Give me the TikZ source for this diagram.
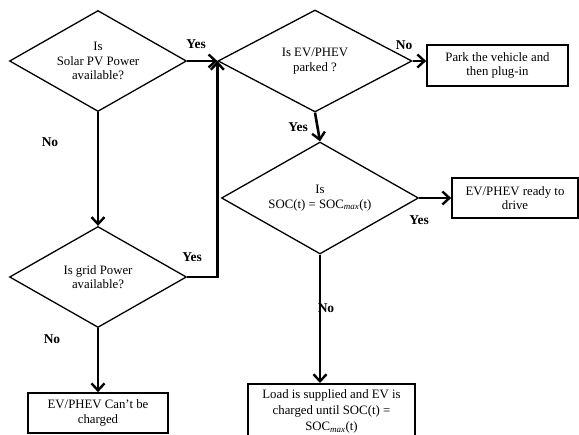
\documentclass[tikz,border=0pt]{standalone}
\usepackage{fontspec}
\setmainfont{Liberation Serif}
\usetikzlibrary{positioning,shapes.geometric,arrows.meta}

\tikzset{
  decision/.style={diamond, aspect=1.75, draw, line width=1.3pt, inner sep=0pt, align=center,
    font=\fontsize{12.8}{14.5}\selectfont},
  outcome/.style={rectangle, draw, line width=1.7pt, inner sep=2pt, align=center,
    font=\fontsize{12.8}{14.5}\selectfont},
  flow/.style={line width=2.6pt, line join=miter, -{Straight Barb[length=7pt,width=13pt,line width=2.4pt]}},
  answer/.style={font=\bfseries\fontsize{13.5}{15}\selectfont, inner sep=0pt}
}

\begin{document}
\begin{tikzpicture}[x=1pt,y=-1pt]
            \useasboundingbox (0,0) rectangle (579,435);

            %Nodes
            \node[decision, minimum width=177, minimum height=101] at (98,61)   (solar)  {Is\\Solar PV Power\\available?};
            \node[decision, minimum width=194, minimum height=102] at (315,61)  (parked) {Is EV/PHEV\\parked ?};
            \node[decision, minimum width=197, minimum height=112] at (320,198) (soc)    {Is\\SOC(t) = SOC\textsubscript{\itshape max}(t)};
            \node[decision, minimum width=177, minimum height=101] at (98,277)  (grid)   {Is grid Power\\available?};
            \node[outcome, minimum width=141, minimum height=41]   at (497.5,65.5) (park)  {Park the vehicle and\\then plug-in};
            \node[outcome, minimum width=126, minimum height=40]   at (515,198)    (ready) {EV/PHEV ready to\\drive};
            \node[outcome, minimum width=140, minimum height=40]   at (98,413)     (cant)  {EV/PHEV Can’t be\\charged};
            \node[outcome, minimum width=167, minimum height=56, font=\fontsize{12.8}{16}\selectfont, anchor=north]
                                                                  at (331.5,383)  (load)  {Load is supplied and EV is\\charged until SOC(t) =\\SOC\textsubscript{\itshape max}(t)};

            %Labels
            \node[answer] at (196,44)  (yes1) {Yes};
            \node[answer] at (50,142)  (no1)  {No};
            \node[answer] at (404,45)  (no2)  {No};
            \node[answer] at (298,127) (yes2) {Yes};
            \node[answer] at (419,220) (yes3) {Yes};
            \node[answer] at (192,257) (yes4) {Yes};
            \node[answer] at (52,339)  (no3)  {No};
            \node[answer] at (326,308) (no4)  {No};

            %Lines
            \draw[flow] (solar) -- (parked.west);
            \draw[flow] (solar) -- (grid);
            \draw[flow] (grid.east) -| (parked.west);
            \draw[flow] (grid) -- (cant);
            \draw[flow] (parked.east) -- (parked.east -| park.west);
            \draw[flow] (parked.south) -- (soc.north);
            \draw[flow] (soc.east) -- (ready.west);
            \draw[flow] (soc.south) -- (soc.south |- load.north);
\end{tikzpicture}
\end{document}
